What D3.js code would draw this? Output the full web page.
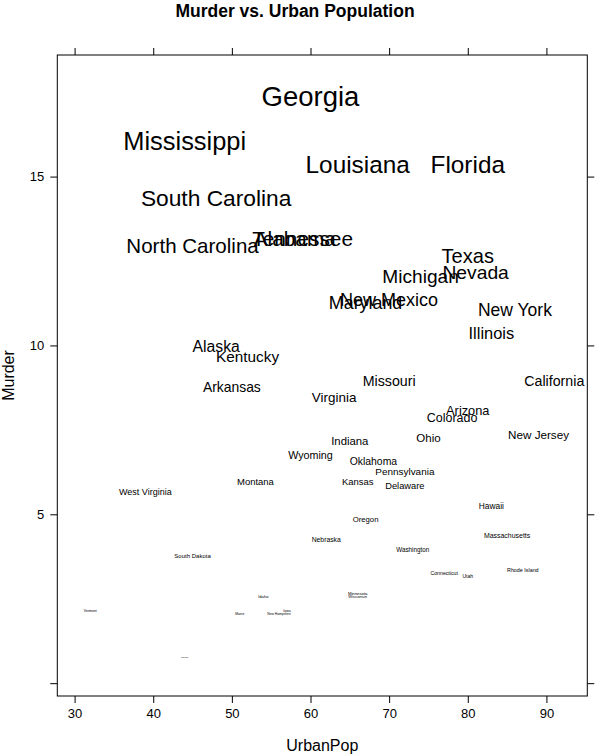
<!DOCTYPE html>
<html>
<head>
<meta charset="utf-8">
<script src="https://cdn.jsdelivr.net/npm/d3@7"></script>
<style>
  body { margin: 0; background: #fff; }
  text { font-family: "Liberation Sans", Arial, sans-serif; fill: #000; }
</style>
</head>
<body>
<svg id="chart" width="609" height="756"></svg>
<script>
// USArrests: state, UrbanPop, Murder
const states = ["Alabama","Alaska","Arizona","Arkansas","California","Colorado","Connecticut","Delaware","Florida","Georgia",
  "Hawaii","Idaho","Illinois","Indiana","Iowa","Kansas","Kentucky","Louisiana","Maine","Maryland",
  "Massachusetts","Michigan","Minnesota","Mississippi","Missouri","Montana","Nebraska","Nevada","New Hampshire","New Jersey",
  "New Mexico","New York","North Carolina","North Dakota","Ohio","Oklahoma","Oregon","Pennsylvania","Rhode Island","South Carolina",
  "South Dakota","Tennessee","Texas","Utah","Vermont","Virginia","Washington","West Virginia","Wisconsin","Wyoming"];
const urbanPop = [58,48,80,50,91,78,77,72,80,60,
  83,54,83,65,57,66,52,66,51,67,
  85,74,66,44,70,53,62,81,56,89,
  70,86,45,44,75,68,67,72,87,48,
  45,59,80,80,32,63,73,39,66,60];
const murder = [13.2,10.0,8.1,8.8,9.0,7.9,3.3,5.9,15.4,17.4,
  5.3,2.6,10.4,7.2,2.2,6.0,9.7,15.4,2.1,11.3,
  4.4,12.1,2.7,16.1,9.0,6.0,4.3,12.2,2.1,7.4,
  11.4,11.1,13.0,0.8,7.3,6.6,4.9,6.3,3.4,14.4,
  3.8,13.2,12.7,3.2,2.2,8.5,4.0,5.7,2.6,6.8];
const xTicks = [30, 40, 50, 60, 70, 80, 90];
const yTicks = [0, 5, 10, 15];
const yTickLabels = ["", "5", "10", "15"];

const svg = d3.select("#chart");
const panel = { left: 57.3, right: 587.3, top: 55, bottom: 696 };

const x = d3.scaleLinear().domain([27.8, 95.2]).range([panel.left, panel.right]);
const y = d3.scaleLinear().domain([-0.38, 18.6]).range([panel.bottom, panel.top]);

// Title
svg.append("text")
  .attr("x", 295).attr("y", 17)
  .attr("text-anchor", "middle")
  .attr("font-size", 17.5).attr("font-weight", "bold")
  .text("Murder vs. Urban Population");

// Axes (lattice style: ticks on all sides, labels bottom/left)
const tickLen = 7;
const bottomAxis = d3.axisBottom(x).tickValues(xTicks).tickSize(tickLen).tickPadding(6);
const topAxis = d3.axisTop(x).tickValues(xTicks).tickSize(tickLen).tickFormat("");
const leftAxis = d3.axisLeft(y).tickValues(yTicks).tickSize(tickLen).tickPadding(6)
  .tickFormat((d, i) => yTickLabels[i]);
const rightAxis = d3.axisRight(y).tickValues(yTicks).tickSize(tickLen).tickFormat("");

function styleAxis(g) {
  g.select(".domain").remove();
  g.selectAll("line").attr("stroke", "#000");
  g.selectAll("text").attr("font-size", 13).attr("font-family", "Liberation Sans, Arial, sans-serif").attr("fill", "#000");
}

svg.append("g").attr("transform", `translate(0,${panel.bottom})`).call(bottomAxis).call(styleAxis);
svg.append("g").attr("transform", `translate(0,${panel.top})`).call(topAxis).call(styleAxis);
svg.append("g").attr("transform", `translate(${panel.left},0)`).call(leftAxis).call(styleAxis);
svg.append("g").attr("transform", `translate(${panel.right},0)`).call(rightAxis).call(styleAxis);

// Panel box
svg.append("rect")
  .attr("x", panel.left).attr("y", panel.top)
  .attr("width", panel.right - panel.left).attr("height", panel.bottom - panel.top)
  .attr("fill", "none").attr("stroke", "#000").attr("stroke-width", 1);

// Axis titles
svg.append("text")
  .attr("x", (panel.left + panel.right) / 2).attr("y", 751)
  .attr("text-anchor", "middle").attr("font-size", 16)
  .text("UrbanPop");
svg.append("text")
  .attr("transform", `translate(14,${(panel.top + panel.bottom) / 2}) rotate(-90)`)
  .attr("text-anchor", "middle").attr("font-size", 16)
  .text("Murder");

// State labels, size proportional to Murder
const rows = states.map((s, i) => ({ state: s, urban: urbanPop[i], murder: murder[i] }));
svg.append("g")
  .selectAll("text")
  .data(rows)
  .enter().append("text")
  .attr("x", d => x(d.urban))
  .attr("y", d => y(d.murder))
  .attr("dy", d => (0.34 * 1.58 * d.murder + 1.5).toFixed(2))
  .attr("text-anchor", "middle")
  .attr("font-size", d => 1.58 * d.murder)
  .text(d => d.state);
</script>
</body>
</html>
